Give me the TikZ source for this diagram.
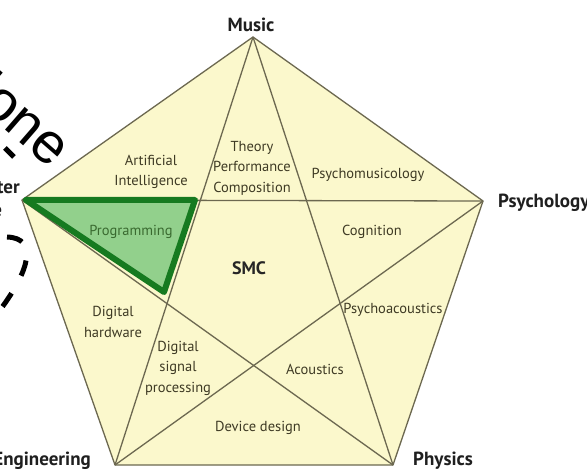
\documentclass[tikz,border=0pt]{standalone}
\usepackage{fontspec}
\setmainfont{PT Sans}
\newfontfamily\arialfont{Liberation Sans}
\definecolor{penfill}{RGB}{251,248,204}
\definecolor{linec}{RGB}{108,104,80}
\definecolor{textc}{RGB}{62,58,36}
\definecolor{greenfill}{RGB}{146,208,140}
\definecolor{greenline}{RGB}{22,122,32}
\definecolor{progtext}{RGB}{58,106,48}
\tikzset{
  edge/.style={draw=linec, line width=1.3pt},
  lbl/.style={text=textc, font=\fontsize{14.5}{20.5}\selectfont, align=center, inner sep=0pt},
  vlbl/.style={text=black!88, font=\bfseries\fontsize{19}{23}\selectfont, inner sep=0pt},
  greentri/.style={draw=greenline, fill=greenfill, line width=6pt, line join=round},
  dashline/.style={draw=black, line width=5pt, dash pattern=on 16pt off 20pt}
}
\begin{document}
\begin{tikzpicture}[x=1pt,y=-1pt]
\useasboundingbox (0,0) rectangle (587,476);
\clip (0,0) rectangle (587,476);
\fill[white] (0,0) rectangle (587,476);
% vertices
\coordinate (M) at (253,37);
\coordinate (L) at (22,200);
\coordinate (R) at (483,201);
\coordinate (E) at (115,465);
\coordinate (P) at (393,465);
% pentagon
\fill[penfill] (M) -- (R) -- (P) -- (E) -- (L) -- cycle;
\draw[edge, line join=round] (M) -- (R) -- (P) -- (E) -- (L) -- cycle;
% pentagram
\draw[edge] (M) -- (E);
\draw[edge] (M) -- (P);
\draw[edge] (L) -- (R);
\draw[edge] (L) -- (P);
\draw[edge] (R) -- (E);
% green triangle
\coordinate (g1) at (26,200);
\coordinate (g2) at (195,200);
\coordinate (g3) at (164,292);
\draw[greentri] (g1) -- (g2) -- (g3) -- cycle;
% region labels
\node[lbl] (ai) at (151,172) {Artificial\\Intelligence};
\node[lbl] (tpc) at (252,168) {Theory\\Performance\\Composition};
\node[lbl] (pmus) at (368,175) {Psychomusicology};
\node[lbl, text=progtext] (prog) at (131,232) {Programming};
\node[lbl] (cog) at (372,232) {Cognition};
\node[vlbl, text=black!85, font=\bfseries\fontsize{18}{22}\selectfont] (smc) at (249,268) {SMC};
\node[lbl] (dh) at (113,322) {Digital\\hardware};
\node[lbl] (dsp) at (178,368) {Digital\\signal\\processing};
\node[lbl] (pac) at (393,310) {Psychoacoustics};
\node[lbl] (aco) at (315,369) {Acoustics};
\node[lbl] (dev) at (258,428) {Device design};
% vertex labels
\node[vlbl] (music) at (251,25) {Music};
\node[vlbl, anchor=west] (psy) at (498,203) {Psychology};
\node[vlbl, anchor=west] (phys) at (413,461) {Physics};
\node[vlbl, anchor=east] (eng) at (91,461) {Engineering};
\node[vlbl, align=left, anchor=north east] (cs) at (20,180) {Computer\\Science};
% overlay
\node[anchor=base east, rotate=-41, inner sep=0pt, font=\arialfont\fontsize{57}{60}\selectfont] (zione) at (51,169) {zione};
\draw[dashline] (7,237) .. controls (38,238) and (30,270) .. (0,310);
\draw[black, line width=5pt] (5,148) -- (14,157);
\end{tikzpicture}
\end{document}
